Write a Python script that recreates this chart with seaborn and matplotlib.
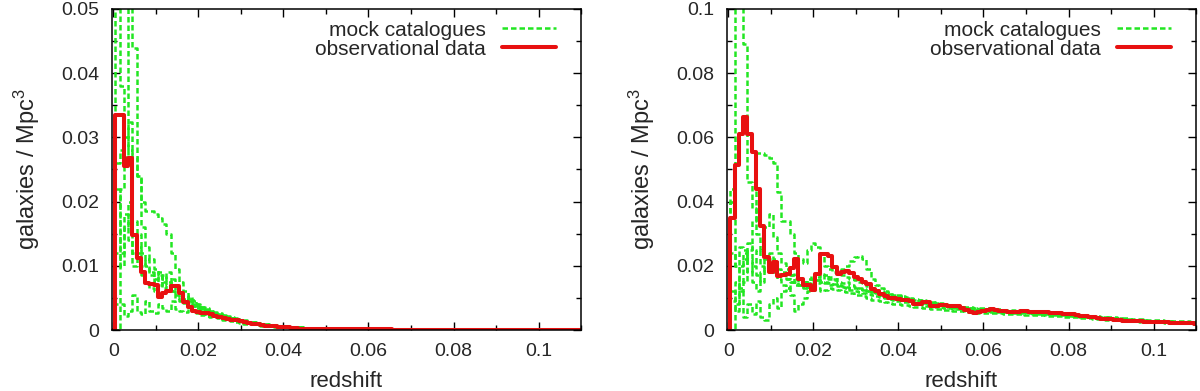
import numpy as np
import pandas as pd
import matplotlib
matplotlib.use("Agg")
import matplotlib.pyplot as plt
from matplotlib.lines import Line2D
from matplotlib.ticker import MultipleLocator, FuncFormatter
import seaborn as sns

# bin centres in redshift (bin width 0.001)
redshift = np.round(np.arange(111) * 0.001, 3)

# ---------------- left panel ----------------
left_tail = [
    0.00018, 0.00017, 0.00016, 0.00015, 0.00014, 0.00013, 0.00012, 0.00012, 0.00011, 0.00010,
    0.00010, 0.00009, 0.00009, 0.00008, 0.00008, 0.00008, 0.00007, 0.00007, 0.00007, 0.00006,
    0.00006, 0.00006, 0.00006, 0.00005, 0.00005, 0.00005, 0.00005, 0.00005, 0.00004, 0.00004,
    0.00004, 0.00004, 0.00004, 0.00004, 0.00003, 0.00003, 0.00003, 0.00003, 0.00003, 0.00003,
    0.00003, 0.00003, 0.00002, 0.00002, 0.00002, 0.00002, 0.00002, 0.00002, 0.00002, 0.00002,
    0.00002, 0.00002, 0.00002, 0.00002, 0.00002, 0.00002, 0.00002, 0.00002, 0.00002, 0.00002,
    0.00002,
]

obs_left = [
    0, 0.0335, 0.0335, 0.0255, 0.0268, 0.0148, 0.0112, 0.0091, 0.0073, 0.0072,
    0.0070, 0.0052, 0.0058, 0.0060, 0.0068, 0.0069, 0.0057, 0.0044, 0.0036, 0.0030,
    0.0028, 0.0027, 0.0026, 0.0025, 0.0022, 0.0020, 0.0018, 0.0017, 0.0016, 0.0015,
    0.0014, 0.0012, 0.0011, 0.0010, 0.0009, 0.0008, 0.0007, 0.0006, 0.0006, 0.0005,
    0.0005, 0.0004, 0.0003, 0.0003, 0.0002, 0.0002, 0.0002, 0.0002, 0.0002, 0.0002,
] + left_tail

mock_left_1 = [
    0, 0.0800, 0.0380, 0.0300, 0.0280, 0.0170, 0.0150, 0.0120, 0.0100, 0.0085,
    0.0080, 0.0090, 0.0075, 0.0070, 0.0060, 0.0055, 0.0050, 0.0048, 0.0042, 0.0038,
    0.0035, 0.0032, 0.0030, 0.0028, 0.0026, 0.0024, 0.0022, 0.0020, 0.0019, 0.0017,
    0.0016, 0.0015, 0.0013, 0.0012, 0.0011, 0.0010, 0.0009, 0.0008, 0.0007, 0.0006,
    0.0006, 0.0005, 0.0005, 0.0004, 0.0004, 0.0003, 0.0003, 0.0003, 0.0002, 0.0002,
] + left_tail
mock_left_2 = [
    0, 0.0120, 0.0220, 0.0300, 0.0750, 0.0440, 0.0240, 0.0160, 0.0130, 0.0110,
    0.0095, 0.0085, 0.0080, 0.0090, 0.0070, 0.0065, 0.0060, 0.0055, 0.0050, 0.0045,
    0.0040, 0.0036, 0.0034, 0.0030, 0.0028, 0.0026, 0.0024, 0.0022, 0.0020, 0.0018,
    0.0016, 0.0014, 0.0013, 0.0012, 0.0011, 0.0010, 0.0009, 0.0008, 0.0008, 0.0007,
    0.0006, 0.0006, 0.0005, 0.0004, 0.0004, 0.0003, 0.0003, 0.0002, 0.0002, 0.0002,
] + left_tail
mock_left_3 = [
    0, 0.0260, 0.0280, 0.0270, 0.0324, 0.0270, 0.0240, 0.0200, 0.0185, 0.0185,
    0.0180, 0.0175, 0.0165, 0.0150, 0.0120, 0.0095, 0.0075, 0.0060, 0.0052, 0.0046,
    0.0040, 0.0036, 0.0032, 0.0030, 0.0027, 0.0025, 0.0022, 0.0020, 0.0018, 0.0017,
    0.0015, 0.0014, 0.0013, 0.0012, 0.0011, 0.0010, 0.0009, 0.0008, 0.0007, 0.0006,
    0.0006, 0.0005, 0.0005, 0.0004, 0.0004, 0.0003, 0.0003, 0.0003, 0.0002, 0.0002,
] + left_tail
mock_left_4 = [
    0, 0.0000, 0.0040, 0.0022, 0.0030, 0.0055, 0.0028, 0.0025, 0.0045, 0.0030,
    0.0026, 0.0040, 0.0035, 0.0030, 0.0045, 0.0032, 0.0030, 0.0028, 0.0034, 0.0030,
    0.0026, 0.0024, 0.0022, 0.0020, 0.0021, 0.0018, 0.0016, 0.0015, 0.0014, 0.0012,
    0.0011, 0.0010, 0.0010, 0.0009, 0.0008, 0.0007, 0.0007, 0.0006, 0.0005, 0.0005,
    0.0004, 0.0004, 0.0004, 0.0003, 0.0003, 0.0003, 0.0002, 0.0002, 0.0002, 0.0002,
] + left_tail
mock_left_5 = [
    0, 0.0220, 0.0100, 0.0160, 0.0200, 0.0120, 0.0130, 0.0100, 0.0110, 0.0090,
    0.0075, 0.0085, 0.0065, 0.0070, 0.0080, 0.0060, 0.0055, 0.0050, 0.0048, 0.0040,
    0.0037, 0.0033, 0.0031, 0.0029, 0.0027, 0.0025, 0.0023, 0.0021, 0.0019, 0.0017,
    0.0015, 0.0014, 0.0012, 0.0011, 0.0010, 0.0009, 0.0008, 0.0008, 0.0007, 0.0006,
    0.0006, 0.0005, 0.0005, 0.0004, 0.0004, 0.0003, 0.0003, 0.0002, 0.0002, 0.0002,
] + left_tail
mock_left_6 = [
    0, 0.0040, 0.0120, 0.0180, 0.0140, 0.0100, 0.0120, 0.0085, 0.0075, 0.0065,
    0.0060, 0.0070, 0.0085, 0.0075, 0.0060, 0.0050, 0.0045, 0.0042, 0.0045, 0.0038,
    0.0034, 0.0031, 0.0029, 0.0027, 0.0025, 0.0023, 0.0021, 0.0019, 0.0018, 0.0016,
    0.0014, 0.0013, 0.0012, 0.0011, 0.0010, 0.0009, 0.0008, 0.0007, 0.0006, 0.0006,
    0.0005, 0.0005, 0.0004, 0.0004, 0.0003, 0.0003, 0.0003, 0.0002, 0.0002, 0.0002,
] + left_tail

# ---------------- right panel ----------------
obs_right = [
    0, 0.0350, 0.0513, 0.0611, 0.0663, 0.0611, 0.0554, 0.0440, 0.0323, 0.0228,
    0.0181, 0.0212, 0.0168, 0.0170, 0.0175, 0.0193, 0.0220, 0.0160, 0.0141, 0.0141,
    0.0125, 0.0176, 0.0236, 0.0236, 0.0230, 0.0197, 0.0176, 0.0181, 0.0185, 0.0178,
    0.0166, 0.0160, 0.0148, 0.0142, 0.0128, 0.0122, 0.0112, 0.0106, 0.0100, 0.0099,
    0.0097, 0.0094, 0.0093, 0.0090, 0.0082, 0.0080, 0.0087, 0.0086, 0.0076, 0.0074,
    0.0077, 0.0078, 0.0076, 0.0075, 0.0076, 0.0070, 0.0062, 0.0055, 0.0054, 0.0055,
    0.0060, 0.0063, 0.0065, 0.0063, 0.0060, 0.0058, 0.0056, 0.0055, 0.0056, 0.0058,
    0.0058, 0.0057, 0.0057, 0.0056, 0.0055, 0.0055, 0.0054, 0.0054, 0.0053, 0.0051,
    0.0050, 0.0049, 0.0047, 0.0045, 0.0043, 0.0041, 0.0039, 0.0037, 0.0035, 0.0034,
    0.0033, 0.0031, 0.0030, 0.0029, 0.0029, 0.0028, 0.0027, 0.0027, 0.0026, 0.0026,
    0.0025, 0.0025, 0.0024, 0.0024, 0.0023, 0.0023, 0.0022, 0.0022, 0.0021, 0.0021,
    0.0020,
]

mock_right_1 = [
    0, 0.0400, 0.1300, 0.1200, 0.0890, 0.0460, 0.0380, 0.0300, 0.0250, 0.0220,
    0.0200, 0.0190, 0.0175, 0.0170, 0.0160, 0.0170, 0.0180, 0.0160, 0.0150, 0.0140,
    0.0155, 0.0165, 0.0175, 0.0170, 0.0160, 0.0155, 0.0150, 0.0145, 0.0150, 0.0140,
    0.0135, 0.0130, 0.0128, 0.0122, 0.0118, 0.0112, 0.0108, 0.0104, 0.0100, 0.0098,
    0.0104, 0.0101, 0.0096, 0.0094, 0.0090, 0.0088, 0.0086, 0.0084, 0.0081, 0.0079,
    0.0077, 0.0075, 0.0073, 0.0070, 0.0068, 0.0067, 0.0066, 0.0064, 0.0063, 0.0062,
    0.0062, 0.0061, 0.0060, 0.0060, 0.0059, 0.0058, 0.0058, 0.0057, 0.0056, 0.0056,
    0.0055, 0.0055, 0.0054, 0.0054, 0.0053, 0.0052, 0.0051, 0.0050, 0.0049, 0.0048,
    0.0047, 0.0046, 0.0045, 0.0044, 0.0043, 0.0042, 0.0041, 0.0040, 0.0038, 0.0037,
    0.0036, 0.0035, 0.0034, 0.0033, 0.0032, 0.0031, 0.0030, 0.0030, 0.0029, 0.0028,
    0.0028, 0.0027, 0.0027, 0.0026, 0.0026, 0.0025, 0.0025, 0.0024, 0.0024, 0.0023,
    0.0023,
]
mock_right_2 = [
    0, 0.0440, 0.0200, 0.0120, 0.0150, 0.0250, 0.0340, 0.0550, 0.0550, 0.0545,
    0.0535, 0.0520, 0.0430, 0.0340, 0.0340, 0.0300, 0.0240, 0.0220, 0.0210, 0.0250,
    0.0270, 0.0260, 0.0230, 0.0200, 0.0190, 0.0180, 0.0175, 0.0170, 0.0165, 0.0160,
    0.0155, 0.0150, 0.0145, 0.0138, 0.0130, 0.0125, 0.0120, 0.0115, 0.0112, 0.0110,
    0.0108, 0.0106, 0.0104, 0.0101, 0.0098, 0.0095, 0.0092, 0.0090, 0.0087, 0.0085,
    0.0083, 0.0081, 0.0079, 0.0077, 0.0075, 0.0072, 0.0070, 0.0068, 0.0067, 0.0066,
    0.0065, 0.0064, 0.0063, 0.0062, 0.0061, 0.0060, 0.0059, 0.0058, 0.0057, 0.0056,
    0.0056, 0.0055, 0.0055, 0.0054, 0.0053, 0.0053, 0.0052, 0.0051, 0.0050, 0.0049,
    0.0048, 0.0047, 0.0046, 0.0045, 0.0044, 0.0043, 0.0042, 0.0041, 0.0040, 0.0039,
    0.0038, 0.0037, 0.0036, 0.0035, 0.0034, 0.0033, 0.0032, 0.0031, 0.0030, 0.0029,
    0.0029, 0.0028, 0.0028, 0.0027, 0.0027, 0.0026, 0.0026, 0.0025, 0.0025, 0.0024,
    0.0024,
]
mock_right_3 = [
    0, 0.0240, 0.0200, 0.0260, 0.0250, 0.0220, 0.0210, 0.0250, 0.0200, 0.0190,
    0.0240, 0.0220, 0.0190, 0.0180, 0.0160, 0.0150, 0.0160, 0.0140, 0.0150, 0.0160,
    0.0170, 0.0155, 0.0160, 0.0170, 0.0165, 0.0160, 0.0175, 0.0190, 0.0200, 0.0215,
    0.0228, 0.0230, 0.0220, 0.0190, 0.0160, 0.0140, 0.0130, 0.0120, 0.0115, 0.0110,
    0.0106, 0.0104, 0.0100, 0.0097, 0.0094, 0.0092, 0.0090, 0.0088, 0.0086, 0.0084,
    0.0082, 0.0080, 0.0079, 0.0078, 0.0076, 0.0075, 0.0073, 0.0072, 0.0070, 0.0069,
    0.0068, 0.0067, 0.0066, 0.0065, 0.0064, 0.0063, 0.0062, 0.0061, 0.0060, 0.0059,
    0.0058, 0.0058, 0.0057, 0.0057, 0.0056, 0.0055, 0.0054, 0.0053, 0.0052, 0.0051,
    0.0050, 0.0049, 0.0048, 0.0047, 0.0046, 0.0045, 0.0044, 0.0043, 0.0042, 0.0041,
    0.0040, 0.0039, 0.0038, 0.0037, 0.0036, 0.0035, 0.0034, 0.0033, 0.0032, 0.0031,
    0.0031, 0.0030, 0.0030, 0.0029, 0.0029, 0.0028, 0.0028, 0.0027, 0.0027, 0.0026,
    0.0026,
]
mock_right_4 = [
    0, 0.0000, 0.0080, 0.0130, 0.0040, 0.0080, 0.0050, 0.0090, 0.0040, 0.0030,
    0.0080, 0.0100, 0.0070, 0.0120, 0.0130, 0.0110, 0.0060, 0.0080, 0.0100, 0.0120,
    0.0125, 0.0130, 0.0120, 0.0125, 0.0130, 0.0128, 0.0125, 0.0122, 0.0118, 0.0115,
    0.0110, 0.0108, 0.0105, 0.0100, 0.0095, 0.0092, 0.0090, 0.0088, 0.0085, 0.0082,
    0.0080, 0.0078, 0.0077, 0.0075, 0.0073, 0.0071, 0.0070, 0.0068, 0.0066, 0.0065,
    0.0064, 0.0063, 0.0062, 0.0060, 0.0059, 0.0058, 0.0057, 0.0056, 0.0055, 0.0054,
    0.0054, 0.0053, 0.0053, 0.0052, 0.0052, 0.0051, 0.0050, 0.0050, 0.0049, 0.0049,
    0.0048, 0.0048, 0.0047, 0.0047, 0.0046, 0.0045, 0.0045, 0.0044, 0.0043, 0.0042,
    0.0041, 0.0040, 0.0039, 0.0038, 0.0037, 0.0036, 0.0035, 0.0034, 0.0033, 0.0032,
    0.0031, 0.0030, 0.0030, 0.0029, 0.0028, 0.0028, 0.0027, 0.0026, 0.0026, 0.0025,
    0.0025, 0.0024, 0.0024, 0.0023, 0.0023, 0.0022, 0.0022, 0.0021, 0.0021, 0.0020,
    0.0020,
]
mock_right_5 = [
    0, 0.0090, 0.0150, 0.0200, 0.0240, 0.0180, 0.0200, 0.0170, 0.0150, 0.0190,
    0.0220, 0.0180, 0.0160, 0.0140, 0.0130, 0.0150, 0.0140, 0.0160, 0.0130, 0.0135,
    0.0140, 0.0145, 0.0150, 0.0148, 0.0145, 0.0142, 0.0140, 0.0138, 0.0135, 0.0132,
    0.0130, 0.0128, 0.0125, 0.0122, 0.0118, 0.0115, 0.0112, 0.0108, 0.0104, 0.0100,
    0.0098, 0.0096, 0.0093, 0.0091, 0.0089, 0.0087, 0.0085, 0.0083, 0.0081, 0.0079,
    0.0078, 0.0076, 0.0075, 0.0073, 0.0072, 0.0070, 0.0069, 0.0068, 0.0066, 0.0065,
    0.0064, 0.0063, 0.0062, 0.0061, 0.0060, 0.0059, 0.0058, 0.0058, 0.0057, 0.0056,
    0.0055, 0.0055, 0.0054, 0.0053, 0.0052, 0.0051, 0.0050, 0.0049, 0.0048, 0.0047,
    0.0046, 0.0045, 0.0044, 0.0043, 0.0042, 0.0041, 0.0040, 0.0039, 0.0038, 0.0037,
    0.0036, 0.0035, 0.0034, 0.0033, 0.0032, 0.0031, 0.0030, 0.0030, 0.0029, 0.0028,
    0.0028, 0.0027, 0.0027, 0.0026, 0.0026, 0.0025, 0.0025, 0.0024, 0.0024, 0.0023,
    0.0023,
]
mock_right_6 = [
    0, 0.0120, 0.0060, 0.0150, 0.0220, 0.0270, 0.0150, 0.0120, 0.0180, 0.0320,
    0.0360, 0.0290, 0.0240, 0.0210, 0.0190, 0.0170, 0.0150, 0.0140, 0.0130, 0.0145,
    0.0160, 0.0155, 0.0150, 0.0145, 0.0140, 0.0142, 0.0138, 0.0135, 0.0130, 0.0126,
    0.0122, 0.0118, 0.0115, 0.0112, 0.0108, 0.0105, 0.0102, 0.0099, 0.0096, 0.0093,
    0.0090, 0.0088, 0.0086, 0.0084, 0.0082, 0.0080, 0.0078, 0.0076, 0.0074, 0.0072,
    0.0071, 0.0069, 0.0068, 0.0066, 0.0065, 0.0064, 0.0063, 0.0062, 0.0061, 0.0060,
    0.0059, 0.0058, 0.0057, 0.0057, 0.0056, 0.0055, 0.0055, 0.0054, 0.0053, 0.0053,
    0.0052, 0.0052, 0.0051, 0.0051, 0.0050, 0.0049, 0.0048, 0.0048, 0.0047, 0.0046,
    0.0045, 0.0044, 0.0043, 0.0042, 0.0041, 0.0040, 0.0039, 0.0038, 0.0037, 0.0036,
    0.0035, 0.0034, 0.0033, 0.0032, 0.0031, 0.0031, 0.0030, 0.0029, 0.0028, 0.0028,
    0.0027, 0.0027, 0.0026, 0.0026, 0.0025, 0.0025, 0.0024, 0.0024, 0.0023, 0.0023,
    0.0022,
]

mocks_left = [mock_left_1, mock_left_2, mock_left_3, mock_left_4, mock_left_5, mock_left_6]
mocks_right = [mock_right_1, mock_right_2, mock_right_3, mock_right_4, mock_right_5, mock_right_6]

GREEN = "#22e622"
RED = "#e81010"
DASH = (0, (2.2, 1.2))


def to_long(series_list):
    frames = []
    for i, s in enumerate(series_list):
        frames.append(pd.DataFrame({"redshift": redshift, "density": s, "catalogue": i}))
    return pd.concat(frames, ignore_index=True)


sns.set_style("ticks")
plt.rcParams["font.family"] = ["Liberation Sans", "DejaVu Sans"]
plt.rcParams["mathtext.fontset"] = "custom"
plt.rcParams["mathtext.rm"] = "Liberation Sans"
plt.rcParams["mathtext.it"] = "Liberation Sans"

fig = plt.figure(figsize=(12, 3.91), dpi=100)
ax1 = fig.add_axes([0.0933, 0.156, 0.391, 0.821])
ax2 = fig.add_axes([0.6058, 0.156, 0.391, 0.821])

fmt = FuncFormatter(lambda v, _: f"{round(v, 6):g}")

for ax, mocks, obs, ytop, ymaj in [(ax1, mocks_left, obs_left, 0.05, 0.01),
                                   (ax2, mocks_right, obs_right, 0.1, 0.02)]:
    sns.lineplot(data=to_long(mocks), x="redshift", y="density", units="catalogue",
                 estimator=None, color=GREEN, lw=1.8, linestyle=DASH,
                 drawstyle="steps-mid", legend=False, ax=ax)
    sns.lineplot(x=redshift, y=obs, color=RED, lw=2.9, drawstyle="steps-mid",
                 estimator=None, legend=False, ax=ax)
    ax.set_xlim(-0.0003, 0.11)
    ax.set_ylim(0, ytop)
    ax.xaxis.set_major_locator(MultipleLocator(0.02))
    ax.xaxis.set_minor_locator(MultipleLocator(0.01))
    ax.yaxis.set_major_locator(MultipleLocator(ymaj))
    ax.yaxis.set_minor_locator(MultipleLocator(ymaj / 2))
    ax.xaxis.set_major_formatter(fmt)
    ax.yaxis.set_major_formatter(fmt)
    ax.tick_params(which="both", direction="in", top=True, right=True,
                   labelsize=14, width=1, color="black")
    ax.tick_params(which="major", length=6, pad=9)
    ax.tick_params(which="minor", length=3.5)
    for sp in ax.spines.values():
        sp.set_linewidth(1.1)
        sp.set_color("black")
    ax.set_xlabel("redshift", fontsize=16, labelpad=8)
    ax.set_ylabel("galaxies / Mpc$^3$", fontsize=17, labelpad=14)
    handles = [Line2D([], [], color=GREEN, lw=1.8, linestyle=DASH),
               Line2D([], [], color=RED, lw=2.9)]
    ax.legend(handles, ["mock catalogues", "observational data"], loc="upper right",
              frameon=False, markerfirst=False, fontsize=15, handlelength=2.6,
              handletextpad=0.8, labelspacing=0.0, borderaxespad=0.1,
              borderpad=0.3, bbox_to_anchor=(0.965, 0.99))

fig.savefig("out.png", dpi=100)
